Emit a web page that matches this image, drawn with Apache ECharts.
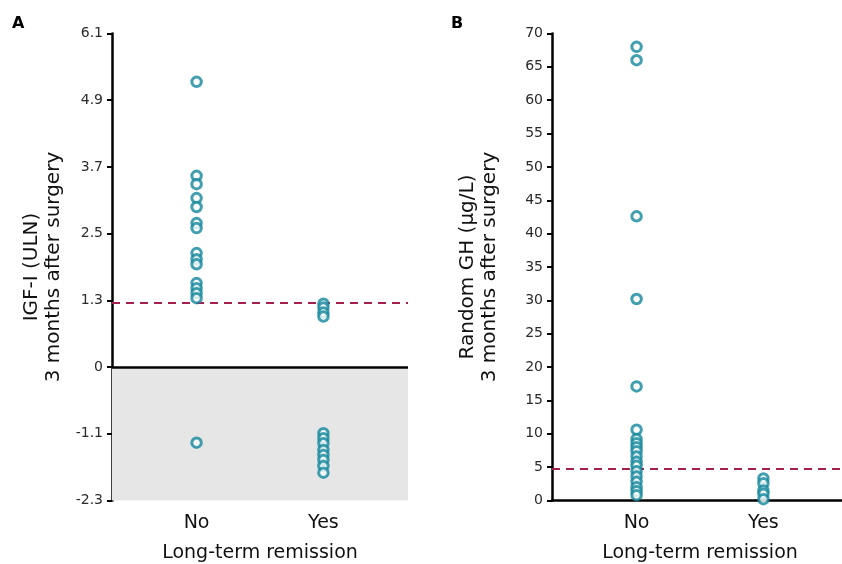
<!DOCTYPE html>
<html>
<head>
<meta charset="utf-8">
<script src="https://cdn.jsdelivr.net/npm/echarts@6/dist/echarts.min.js"></script>
<style>html,body{margin:0;padding:0;background:#fff}#c{width:842px;height:564px}</style>
</head>
<body>
<div id="c"></div>
<script>
// Category positions (8 slots, boundaryGap false): "No" at slot 2, "Yes" at slot 5
var xSlots = ['', '', 'No', '', '', 'Yes', '', ''];

// Panel A: IGF-I (ULN) 3 months after surgery
var aTickLabels = ['-2.3', '-1.1', '0', '1.3', '2.5', '3.7', '4.9', '6.1'];
var aNo = [5.23, 3.54, 3.39, 3.14, 2.98, 2.69, 2.60, 2.15, 2.04, 1.95, 1.61, 1.52, 1.43, 1.34, -1.26];
var aYes = [1.24, 1.17, 1.08, 1.01, -1.09, -1.18, -1.27, -1.39, -1.48, -1.57, -1.68, -1.80];
var aCutoff = 1.25;
var aZero = 0.1;   // position of the tick labelled "0"

// Panel B: Random GH (µg/L) 3 months after surgery
var bTickLabels = ['0','5','10','15','20','25','30','35','40','45','50','55','60','65','70'];
var bNo = [68.0, 66.0, 42.6, 30.2, 17.1, 10.6, 9.2, 8.6, 8.0, 7.4, 6.6, 5.8, 5.2, 4.4, 3.6, 2.8, 2.0, 1.4, 0.8];
var bYes = [3.3, 2.6, 1.5, 1.0, 0.2];
var bCutoff = 4.7;

var teal = '#13879b', crimson = '#a31f50';
var font = 'DejaVu Sans';

function pts(slot, arr) { return arr.map(function (v) { return [xSlots[slot], v]; }); }

var chart = echarts.init(document.getElementById('c'));
var yBase = {
  type: 'value',
  axisLine: { show: true, lineStyle: { color: '#000', width: 2.5 } },
  axisTick: { show: true, length: 5, lineStyle: { color: '#000', width: 2 } },
  splitLine: { show: false },
  axisLabel: { color: '#2a2a2a', fontSize: 14, fontFamily: font, margin: 9 },
  nameLocation: 'middle', nameRotate: 90,
  nameTextStyle: { color: '#111', fontSize: 20, fontFamily: font, lineHeight: 22 }
};
var xBase = {
  type: 'category', data: xSlots, boundaryGap: false,
  axisTick: { show: false },
  axisLabel: { interval: 0, color: '#111', fontSize: 19, fontFamily: font, margin: 13 },
  name: 'Long-term remission', nameLocation: 'middle', nameGap: 43,
  nameTextStyle: { color: '#111', fontSize: 19, fontFamily: font },
  splitLine: { show: false }
};
var scatterStyle = { color: '#fff', borderColor: teal, borderWidth: 3 };
var sz = 9.5;

chart.setOption({
  animation: false,
  graphic: [
    { type: 'text', left: 12, top: 16, style: { text: 'A', font: 'bold 16px ' + font, fill: '#000' } },
    { type: 'text', left: 451, top: 16, style: { text: 'B', font: 'bold 16px ' + font, fill: '#000' } }
  ],
  grid: [
    { left: 112, top: 33.5, width: 296, height: 467, outerBoundsMode: 'none', containLabel: false },
    { left: 552, top: 33.5, width: 296, height: 467, outerBoundsMode: 'none', containLabel: false }
  ],
  xAxis: [
    Object.assign({}, xBase, { gridIndex: 0, axisLine: { show: false } }),
    Object.assign({}, xBase, { gridIndex: 1, axisLine: { show: true, onZero: false, lineStyle: { color: '#000', width: 2.5 } } })
  ],
  yAxis: [
    Object.assign({}, yBase, {
      gridIndex: 0, min: -2.3, max: 6.1, interval: 1.2,
      name: 'IGF-I (ULN)\n3 months after surgery', nameGap: 47,
      axisLabel: Object.assign({}, yBase.axisLabel, {
        formatter: function (v) { return aTickLabels[Math.round((v + 2.3) / 1.2)]; }
      })
    }),
    Object.assign({}, yBase, {
      gridIndex: 1, min: 0, max: 70, interval: 5,
      name: 'Random GH (\u03bcg/L)\n3 months after surgery', nameGap: 51,
      axisLabel: Object.assign({}, yBase.axisLabel, {
        formatter: function (v) { return bTickLabels[Math.round(v / 5)]; }
      })
    })
  ],
  series: [
    {
      type: 'scatter', xAxisIndex: 0, yAxisIndex: 0, z: 3,
      data: [], silent: true,
      markArea: { silent: true, itemStyle: { color: '#e6e6e6' }, data: [[{ yAxis: -2.3 }, { yAxis: aZero }]] },
      markLine: {
        silent: true, symbol: 'none', label: { show: false },
        data: [
          { yAxis: aZero, lineStyle: { color: '#000', width: 2.5, type: 'solid' } },
          { yAxis: aCutoff, lineStyle: { color: crimson, width: 2.2, type: [8, 6] } }
        ]
      }
    },
    { type: 'scatter', xAxisIndex: 0, yAxisIndex: 0, z: 5, symbolSize: sz, itemStyle: scatterStyle, data: pts(2, aNo) },
    { type: 'scatter', xAxisIndex: 0, yAxisIndex: 0, z: 5, symbolSize: sz, itemStyle: scatterStyle, data: pts(5, aYes) },
    {
      type: 'scatter', xAxisIndex: 1, yAxisIndex: 1, z: 3, data: [], silent: true,
      markLine: {
        silent: true, symbol: 'none', label: { show: false },
        data: [{ yAxis: bCutoff, lineStyle: { color: crimson, width: 2.2, type: [8, 6] } }]
      }
    },
    { type: 'scatter', xAxisIndex: 1, yAxisIndex: 1, z: 5, symbolSize: sz, itemStyle: scatterStyle, data: pts(2, bNo) },
    { type: 'scatter', xAxisIndex: 1, yAxisIndex: 1, z: 5, symbolSize: sz, itemStyle: scatterStyle, data: pts(5, bYes) }
  ]
});
</script>
</body>
</html>
